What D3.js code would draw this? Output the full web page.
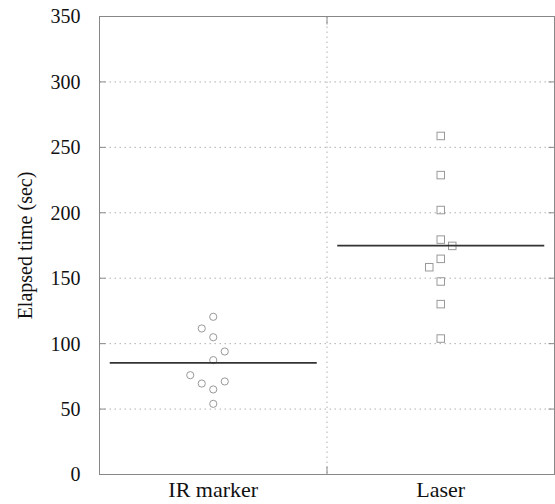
<!DOCTYPE html>
<html>
<head>
<meta charset="utf-8">
<script src="https://cdn.jsdelivr.net/npm/d3@7"></script>
<style>
  body { margin: 0; background: #fff; }
  text { font-family: "Liberation Serif", "Times New Roman", serif; }
</style>
</head>
<body>
<svg id="chart" width="555" height="504"></svg>
<script>
  // values
  let categories = ['IR marker', 'Laser'];

  let irTimes = [120.5, 111.6, 104.9, 94, 87.4, 75.9, 69.5, 71.1, 65, 54];
  let irSlots = [0, -1, 0, 1, 0, -2, -1, 1, 0, 0];

  let laserTimes = [258.7, 228.8, 202.1, 179.5, 174.7, 164.8, 158.4, 147.5, 130.2, 103.9];
  let laserSlots = [0, 0, 0, 0, 1, 0, -1, 0, 0, 0];

  let means = [85.3, 174.9];

  let yTicks = [0, 50, 100, 150, 200, 250, 300, 350];

  let svg = d3.select('#chart');
  let width = +svg.attr('width');
  let height = +svg.attr('height');

  let margin = { left: 99.5, right: 0.5, top: 16.5, bottom: 29.5 };

  let x = d3.scaleBand()
    .domain(categories)
    .range([margin.left, width - margin.right])
    .padding(0);

  let y = d3.scaleLinear()
    .domain([0, 350])
    .range([height - margin.bottom, margin.top]);

  // jitter slot -> pixel offset inside a band
  let jitter = d3.scaleLinear().domain([-1, 1]).range([-11.5, 11.5]);

  let grid = svg.append('g');

  // horizontal dotted grid
  grid.selectAll('line.hg').data(yTicks.filter(d => d > 0 && d < 350)).enter().append('line')
    .attr('x1', margin.left).attr('x2', width - margin.right)
    .attr('y1', d => y(d)).attr('y2', d => y(d))
    .attr('stroke', '#b0b0b0')
    .attr('stroke-dasharray', '1.5,3.5');

  // vertical dotted separator between categories
  let sep = x(categories[1]);
  grid.append('line')
    .attr('x1', sep).attr('x2', sep)
    .attr('y1', y(350)).attr('y2', y(0))
    .attr('stroke', '#b0b0b0')
    .attr('stroke-dasharray', '1.5,3.5');

  // inward ticks
  let ticks = svg.append('g').attr('stroke', '#888');
  ticks.selectAll('line.lt').data(yTicks).enter().append('line')
    .attr('x1', margin.left).attr('x2', margin.left + 6)
    .attr('y1', d => y(d)).attr('y2', d => y(d));
  ticks.selectAll('line.rt').data(yTicks).enter().append('line')
    .attr('x1', width - margin.right - 6).attr('x2', width - margin.right)
    .attr('y1', d => y(d)).attr('y2', d => y(d));
  ticks.append('line').attr('x1', sep).attr('x2', sep).attr('y1', y(0)).attr('y2', y(0) - 8);
  ticks.append('line').attr('x1', sep).attr('x2', sep).attr('y1', y(350)).attr('y2', y(350) + 8);

  // frame
  svg.append('rect')
    .attr('x', margin.left).attr('y', margin.top)
    .attr('width', width - margin.left - margin.right)
    .attr('height', height - margin.top - margin.bottom)
    .attr('fill', 'none')
    .attr('stroke', '#888');

  // y axis labels via d3 axis
  let yAxis = d3.axisLeft(y).tickValues(yTicks).tickSize(0).tickPadding(19);
  svg.append('g')
    .attr('transform', `translate(${margin.left},0)`)
    .call(yAxis)
    .call(g => g.select('.domain').remove())
    .call(g => g.selectAll('text')
      .attr('font-size', 20).attr('fill', '#111'));

  // x axis labels
  let xAxis = d3.axisBottom(x).tickSize(0).tickPadding(7);
  svg.append('g')
    .attr('transform', `translate(0,${height - margin.bottom})`)
    .call(xAxis)
    .call(g => g.select('.domain').remove())
    .call(g => g.selectAll('text')
      .attr('font-size', 22).attr('fill', '#111'));

  // y axis title
  svg.append('text')
    .attr('transform', `translate(32,${(y(0) + y(350)) / 2}) rotate(-90)`)
    .attr('text-anchor', 'middle')
    .attr('font-size', 20)
    .attr('fill', '#111')
    .text('Elapsed time (sec)');

  let cx = (cat, slot) => x(cat) + x.bandwidth() / 2 + jitter(slot);

  // IR marker circles
  svg.append('g')
    .selectAll('circle').data(irTimes).enter().append('circle')
    .attr('cx', (d, i) => cx(categories[0], irSlots[i]))
    .attr('cy', d => y(d))
    .attr('r', 3.6)
    .attr('fill', 'none')
    .attr('stroke', '#999')
    .attr('stroke-width', 1);

  // Laser squares
  let s = 7.5;
  svg.append('g')
    .selectAll('rect').data(laserTimes).enter().append('rect')
    .attr('x', (d, i) => cx(categories[1], laserSlots[i]) - s / 2)
    .attr('y', d => y(d) - s / 2)
    .attr('width', s).attr('height', s)
    .attr('fill', 'none')
    .attr('stroke', '#999')
    .attr('stroke-width', 1);

  // mean lines
  svg.append('g')
    .selectAll('line').data(means).enter().append('line')
    .attr('x1', (d, i) => x(categories[i]) + x.bandwidth() * 0.045)
    .attr('x2', (d, i) => x(categories[i]) + x.bandwidth() * 0.955)
    .attr('y1', d => y(d)).attr('y2', d => y(d))
    .attr('stroke', '#333')
    .attr('stroke-width', 1.8);
</script>
</body>
</html>
